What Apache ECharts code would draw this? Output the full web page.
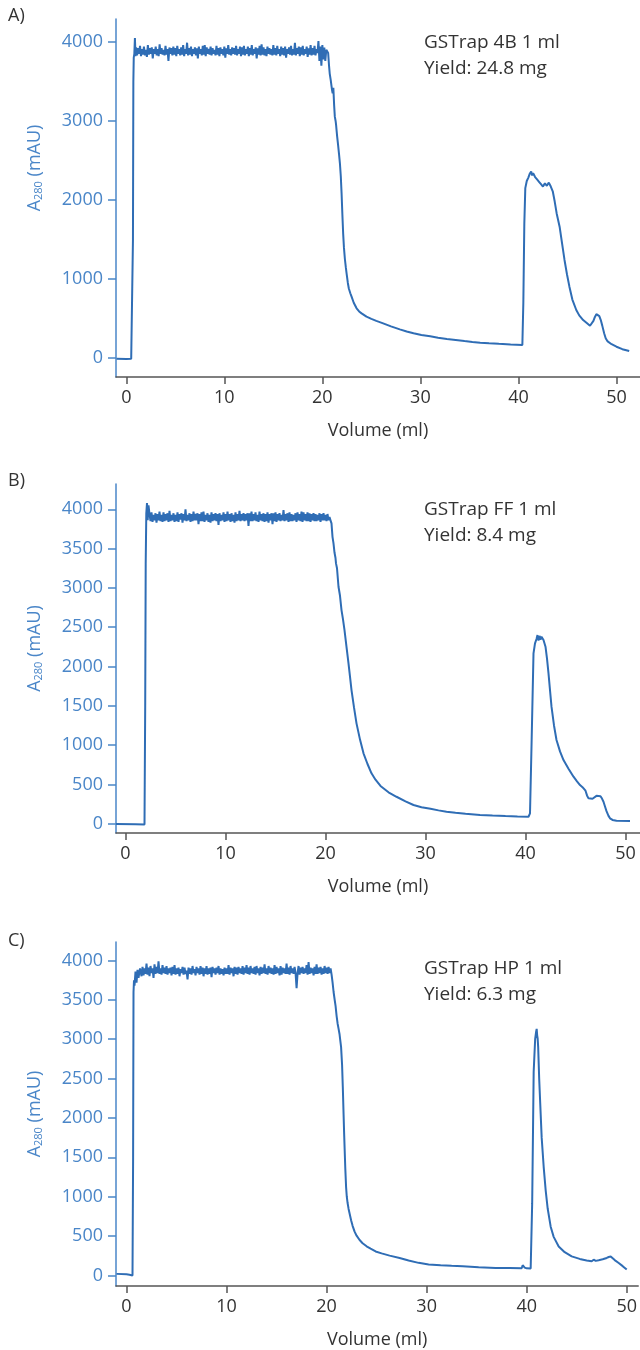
<!DOCTYPE html>
<html><head><meta charset="utf-8">
<script src="https://cdn.jsdelivr.net/npm/echarts@6/dist/echarts.min.js"></script>
<style>html,body{margin:0;padding:0;background:#fff}#c{width:640px;height:1350px}</style>
</head><body><div id="c"></div>
<script>
// ---- data (volume ml, A280 mAU) ----
const xTicks = [0, 10, 20, 30, 40, 50];
const yTicksA = [0, 1000, 2000, 3000, 4000];
const yTicksBC = [0, 500, 1000, 1500, 2000, 2500, 3000, 3500, 4000];
const panelLabels = ['A)', 'B)', 'C)'];
const columnNames = ['GSTrap 4B 1 ml', 'GSTrap FF 1 ml', 'GSTrap HP 1 ml'];
const yields = ['Yield: 24.8 mg', 'Yield: 8.4 mg', 'Yield: 6.3 mg'];

// Plateau (sample load) readings taken every 0.1 ml
const plateauStep = 0.1;
const plateauStartA = 1.0;
const plateauA = [
3930,3830,3920,3850,3950,3820,3910,3840,3940,3830,
3900,3810,3960,3840,3920,3850,3930,3790,3910,3850,
3940,3830,3910,3820,3970,3850,3920,3840,3900,3830,
3950,3840,3910,3760,3930,3850,3920,3830,3940,3840,
3920,3820,3950,3850,3910,3830,3930,3840,3960,3820,
3910,3850,3990,3830,3920,3840,3940,3820,3910,3850,
3930,3830,3920,3790,3940,3850,3910,3830,3950,3840,
3960,3820,3930,3850,3910,3840,3940,3830,3920,3850,
3900,3830,3950,3840,3920,3820,3930,3850,3910,3830,
3940,3800,3920,3850,3960,3840,3910,3830,3930,3850,
3920,3840,3950,3830,3910,3850,3940,3820,3930,3840,
3950,3830,3910,3850,3940,3820,3920,3840,3960,3830,
3910,3850,3930,3790,3920,3840,3950,3830,3970,3840,
3930,3830,3910,3820,3940,3850,3920,3840,3910,3830,
3960,3840,3920,3830,3950,3850,3910,3820,3940,3840,
3920,3830,3940,3800,3910,3850,3930,3840,3950,3830,
3910,3840,3990,3830,3920,3850,3940,3820,3930,3840,
3950,3830,3910,3850,3940,3810,3920,3840,3960,3830,
3920,3840,3950,3830,3910,3860,4010,3760,3940,3700,
3960,3780,3930,3760,3900
];
const plateauStartB = 2.4;
const plateauB = [
3940,3850,3960,3840,3930,3860,
3950,3830,3940,3860,3970,3850,3930,3840,3960,3850,
3940,3860,3950,3840,3980,3850,3930,3860,3950,3840,
3930,3850,3960,3840,3940,3870,3950,3830,3940,3860,
4000,3850,3930,3860,3950,3840,3940,3850,3970,3860,
3940,3860,3950,3810,3940,3850,3960,3850,3970,3840,
3930,3860,3950,3840,3930,3830,3960,3850,3940,3860,
3950,3850,3940,3800,3950,3850,3930,3860,3960,3840,
3940,3850,3970,3860,3940,3840,3950,3850,3930,3830,
3960,3850,3940,3860,3980,3850,3940,3860,3950,3850,
3940,3860,3950,3790,3950,3850,3970,3850,3940,3860,
3960,3850,3930,3840,3970,3860,3940,3850,3950,3840,
3940,3850,3960,3830,3940,3860,3950,3810,3950,3850,
3960,3840,3940,3860,3950,3850,3930,3860,3990,3850,
3940,3860,3950,3840,3960,3850,3940,3850,3930,3860,
3950,3840,3960,3860,3940,3850,3970,3840,3960,3860,
3940,3850,3960,3850,3950,3840,3940,3860,3950,3850,
3940,3850,3930,3860,3950,3840,3940,3860,3950,3860,
3930,3850,3940,3860,3900
];
const plateauStartC = 1.6;
const plateauC = [
3920,3810,3900,3830,
3960,3820,3910,3800,3930,3840,3900,3780,3950,3830,
3920,3840,3990,3830,3900,3820,3940,3840,3910,3830,
3930,3820,3900,3840,3910,3810,3920,3830,3940,3820,
3900,3830,3910,3800,3890,3840,3920,3820,3910,3830,
3870,3760,3910,3830,3900,3820,3930,3840,3890,3810,
3920,3840,3900,3820,3930,3830,3910,3800,3900,3830,
3930,3820,3900,3830,3910,3790,3920,3840,3900,3820,
3910,3840,3930,3820,3900,3830,3890,3810,3910,3830,
3900,3830,3940,3820,3910,3840,3900,3800,3920,3830,
3910,3820,3920,3840,3900,3830,3930,3820,3910,3840,
3940,3830,3910,3820,3930,3840,3900,3830,3920,3820,
3930,3840,3900,3810,3920,3830,3910,3840,3950,3830,
3900,3820,3930,3840,3910,3830,3900,3820,3940,3830,
3920,3840,3900,3810,3930,3820,3910,3840,3900,3830,
3960,3830,3910,3820,3930,3840,3900,3830,3920,3840,
3650,3840,3930,3820,3910,3840,3920,3830,3900,3840,
3940,3820,3980,3830,3910,3840,3900,3810,3920,3830,
3950,3830,3910,3840,3920,3820,3900,3830,3930,3840,
3910,3830,3920,3840,3900,3820
];

// Load start, breakthrough/wash and elution segments: [volume, A280]
const startA = [[-1.0,-10],[0.0,-12],[0.5,-8],[0.62,-5],[0.68,1500],[0.72,3500],[0.76,3800],[0.82,3850],[0.88,4050],[0.94,3820]];
const restA = [
[20.5,3880],[20.59,3860],[20.68,3700],[20.75,3600],[20.85,3520],[20.94,3434],[21.0,3380],[21.05,3350],[21.12,3420],[21.2,3200],
[21.27,3054],[21.35,3000],[21.4,2950],[21.45,2880],[21.51,2801],[21.6,2700],[21.7,2580],[21.79,2464],[21.88,2300],[21.96,2084],
[22.04,1820],[22.12,1578],[22.2,1400],[22.3,1250],[22.4,1140],[22.47,1072],[22.6,950],[22.7,880],[22.85,820],[22.98,776],
[23.2,700],[23.49,629],[23.75,590],[24.0,565],[24.5,523],[25.0,495],[25.5,470],[26.2,439],[27.0,400],[27.9,363],
[28.6,336],[29.3,313],[30.1,292],[31.0,275],[31.8,257],[32.7,241],[33.6,228],[34.5,215],[35.3,204],[36.1,194],
[37.0,187],[38.0,180],[39.2,172],[40.4,165],
[40.5,700],[40.6,1700],[40.7,2150],[40.85,2240],[41.0,2280],[41.15,2330],[41.3,2360],[41.4,2310],[41.5,2340],[41.7,2290],
[41.9,2260],[42.1,2230],[42.3,2200],[42.5,2170],[42.7,2210],[42.9,2180],[43.1,2220],[43.3,2170],[43.5,2110],[43.7,1980],
[43.9,1830],[44.2,1662],[44.45,1450],[44.7,1241],[44.95,1060],[45.2,903],[45.5,740],[45.9,608],[46.2,540],[46.6,481],
[47.0,440],[47.3,409],[47.5,430],[47.65,470],[47.8,520],[47.95,555],[48.1,557],[48.25,530],[48.4,480],[48.55,410],
[48.75,310],[48.9,250],[49.1,210],[49.5,175],[50.0,143],[50.6,112],[51.3,89]
];
const startB = [[-0.95,-5],[1.0,-8],[1.9,-10],[1.97,1500],[2.02,3300],[2.08,3950],[2.15,4080],[2.22,3860],[2.3,4050]];
const restB = [
[20.5,3860],[20.6,3821],[20.7,3650],[20.8,3567],[20.9,3450],[21.0,3380],[21.05,3312],[21.15,3250],[21.3,3015],[21.45,2900],
[21.6,2718],[21.75,2600],[21.9,2464],[22.1,2250],[22.3,2040],[22.45,1870],[22.6,1701],[22.85,1480],[23.1,1277],[23.45,1070],
[23.8,896],[24.2,760],[24.6,641],[25.0,560],[25.5,480],[26.3,400],[27.1,343],[28.0,285],[28.8,238],[29.6,210],
[30.5,190],[31.3,170],[32.1,153],[33.0,140],[34.0,128],[35.45,111],[36.7,104],[38.0,98],[39.2,93],[40.3,89],
[40.45,132],[40.6,980],[40.8,2167],[40.95,2295],[41.1,2350],[41.2,2400],[41.3,2330],[41.4,2390],[41.5,2340],[41.6,2380],
[41.8,2337],[42.0,2252],[42.15,2100],[42.3,1913],[42.45,1700],[42.6,1489],[42.85,1250],[43.1,1065],[43.45,920],[43.8,810],
[44.3,700],[44.8,598],[45.15,540],[45.45,492],[45.7,465],[45.85,450],[46.0,420],[46.15,360],[46.3,323],[46.5,310],
[46.7,318],[46.9,335],[47.1,355],[47.3,365],[47.5,350],[47.65,320],[47.8,280],[47.95,220],[48.1,160],[48.3,100],
[48.45,69],[48.7,48],[49.1,38],[50.45,34]
];
const startC = [[-1.0,20],[0.0,15],[0.3,10],[0.4,-5],[0.6,0],[0.66,1500],[0.7,3600],[0.75,3750],[0.8,3680],[0.9,3860],
[1.0,3720],[1.1,3880],[1.2,3780],[1.35,3900],[1.5,3800]];
const restC = [
[20.6,3718],[20.7,3600],[20.8,3508],[20.9,3420],[21.0,3298],[21.1,3200],[21.2,3131],[21.3,3060],[21.35,3006],[21.45,2900],
[21.55,2670],[21.62,2400],[21.7,2042],[21.75,1820],[21.8,1624],[21.87,1360],[21.95,1122],[22.02,1000],[22.1,920],[22.2,845],
[22.3,786],[22.45,700],[22.6,630],[22.8,556],[23.0,505],[23.3,450],[23.6,409],[24.0,370],[24.4,340],[24.9,305],
[25.5,280],[26.3,252],[27.3,222],[28.2,190],[29.2,160],[30.2,140],[31.4,130],[32.5,122],[33.6,116],[35.2,105],
[36.9,96],[38.3,94],[39.5,92],[39.6,130],[39.7,142],[39.8,100],[40.0,90],[40.4,88],
[40.55,912],[40.7,2587],[40.85,3006],[40.95,3100],[41.0,3131],[41.05,3050],[41.1,3006],[41.15,2900],[41.25,2503],[41.35,2200],
[41.5,1750],[41.7,1380],[41.9,1080],[42.1,850],[42.4,619],[42.7,490],[43.2,368],[43.8,295],[44.5,242],[45.3,210],
[46.0,190],[46.5,180],[46.7,200],[46.9,185],[47.2,192],[47.6,205],[48.0,222],[48.2,234],[48.4,240],[48.5,225],
[48.8,195],[49.2,158],[49.6,118],[50.0,75]
];

function assemble(start, pStart, plateau, rest) {
  const mid = plateau.map((v, i) => [+(pStart + i * plateauStep).toFixed(2), v]);
  return start.concat(mid, rest);
}
const traceA = assemble(startA, plateauStartA, plateauA, restA);
const traceB = assemble(startB, plateauStartB, plateauB, restB);
const traceC = assemble(startC, plateauStartC, plateauC, restC);

// ---- layout ----
const FONT = 'Open Sans';
const BLUE_LINE = '#2f6db5';
const BLUE_AXIS = '#4a86c8';
const DARK = '#333333';
const panels = [
  {top: 19, height: 358, xmin: -1.05, xmax: 52.4, ymin: -240, ymax: 4290, yt: yTicksA, namePad: 60, data: traceA, ly: 18, ty: 46},
  {top: 484, height: 349, xmin: -0.95, xmax: 51.45, ymin: -118, ymax: 4322, yt: yTicksBC, namePad: 20, data: traceB, ly: 483, ty: 513},
  {top: 942, height: 348, xmin: -1.05, xmax: 51.15, ymin: -134, ymax: 4235, yt: yTicksBC, namePad: 0, data: traceC, ly: 943, ty: 972}
];

const option = {
  animation: false,
  backgroundColor: '#fff',
  grid: panels.map(p => ({left: 116, right: 0, top: p.top, height: p.height})),
  xAxis: panels.map((p, i) => ({
    type: 'value', gridIndex: i, min: p.xmin, max: p.xmax,
    name: 'Volume (ml)', nameLocation: 'middle', nameGap: 45,
    nameTextStyle: {color: DARK, fontSize: 18, fontFamily: FONT},
    axisLine: {show: true, onZero: false, lineStyle: {color: '#555', width: 1.5}},
    axisTick: {show: true, length: 7, customValues: xTicks, lineStyle: {color: '#555', width: 1.5}},
    axisLabel: {customValues: xTicks, formatter: v => String(v), color: DARK, fontSize: 18, fontFamily: FONT, margin: 12},
    splitLine: {show: false}
  })),
  yAxis: panels.map((p, i) => ({
    type: 'value', gridIndex: i, min: p.ymin, max: p.ymax,
    name: '{a|A}{s|280}{a| (mAU)}', nameLocation: 'middle', nameGap: 72, nameRotate: 90,
    nameTextStyle: {color: BLUE_AXIS, padding: [0, 0, 0, p.namePad],
      rich: {a: {fontSize: 18, color: BLUE_AXIS, fontFamily: FONT},
             s: {fontSize: 11, color: BLUE_AXIS, fontFamily: FONT, verticalAlign: 'bottom', padding: [8, 0, 0, 0]}}},
    axisLine: {show: true, onZero: false, lineStyle: {color: BLUE_AXIS, width: 1.5}},
    axisTick: {show: true, length: 8, customValues: p.yt, lineStyle: {color: BLUE_AXIS, width: 1.5}},
    axisLabel: {customValues: p.yt, formatter: v => String(v), color: BLUE_AXIS, fontSize: 18, fontFamily: FONT, margin: 13},
    splitLine: {show: false}
  })),
  series: panels.map((p, i) => ({
    type: 'line', xAxisIndex: i, yAxisIndex: i, data: p.data,
    showSymbol: false, symbol: 'none', sampling: undefined,
    lineStyle: {color: BLUE_LINE, width: 2}
  })),
  graphic: panels.flatMap((p, i) => [
    {type: 'text', left: 8, top: p.ly - 11, style: {text: panelLabels[i], fill: DARK, font: `18px "${FONT}"`}},
    {type: 'text', left: 424, top: p.ty - 13, style: {text: columnNames[i], fill: DARK, font: `19px "${FONT}"`}},
    {type: 'text', left: 424, top: p.ty + 13, style: {text: yields[i], fill: DARK, font: `19px "${FONT}"`}}
  ])
};
const chart = echarts.init(document.getElementById('c'), null, {renderer: 'canvas'});
chart.setOption(option);
</script>
</body></html>
